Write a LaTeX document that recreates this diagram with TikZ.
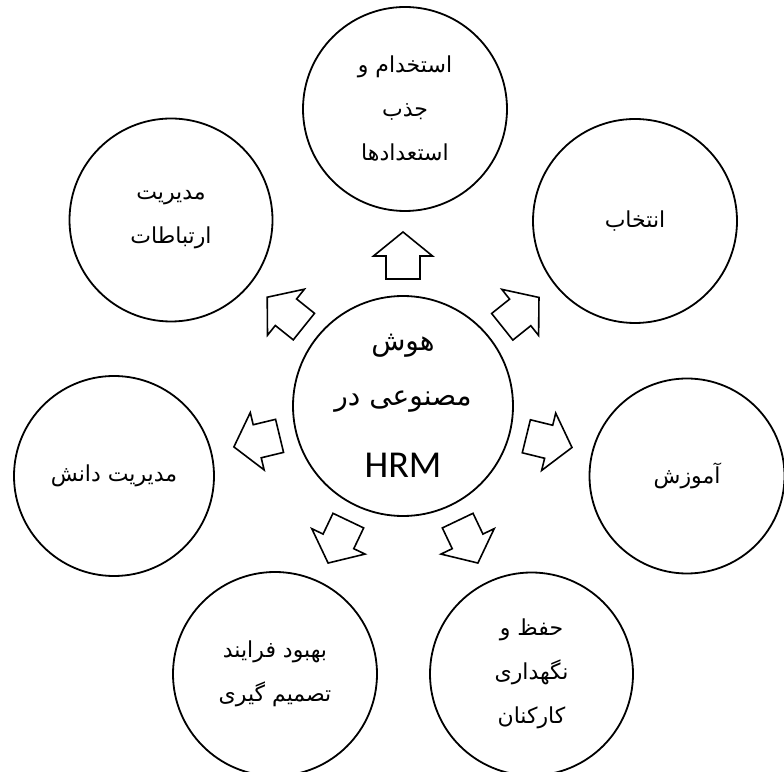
\documentclass[tikz,border=0pt]{standalone}
\usepackage{fontspec}
\TeXXeTstate=1
\newfontfamily\fafont[Script=Arabic]{DejaVu Sans}
\newfontfamily\latinfont{Carlito}
\begin{document}
\begin{tikzpicture}[x=1pt,y=1pt,
  ring/.style={circle, draw, line width=1.8pt, inner sep=0pt, align=center,
    font=\fafont\fontsize{22}{44}\selectfont},
  centertext/.style={inner sep=0pt, font=\fafont\fontsize{28}{30}\selectfont},
  blockarrow/.style={draw, line width=1.6pt, fill=white, line join=miter}]
\useasboundingbox (0,0) rectangle (784,771);
\clip (0,0) rectangle (784,771);
% hub
\node[circle, draw, line width=1.8pt, minimum size=220pt, inner sep=0pt] (hub) at (403,365) {};
\node[centertext] (c1) at ([yshift=60pt]hub.center) {\beginR هوش\endR};
\node[centertext] (c2) at ([yshift=4pt]hub.center) {\beginR مصنوعی در\endR};
\node[inner sep=0pt, font=\latinfont\fontsize{38}{40}\selectfont] (c3) at ([yshift=-59pt]hub.center) {HRM};
% outer circles
\node[ring, minimum size=204pt] (top) at (405,662) {\beginR استخدام و\endR\\\beginR جذب\endR\\\beginR استعدادها\endR};
\node[ring, minimum size=203pt] (tl) at (171,551) {\beginR مدیریت\endR\\\beginR ارتباطات\endR};
\node[ring, minimum size=204pt] (tr) at (635,550) {\beginR انتخاب\endR};
\node[ring, minimum size=195pt] (rt) at (687,295) {\beginR آموزش\endR};
\node[ring, minimum size=200pt] (lf) at (114,295) {\beginR مدیریت دانش\endR};
\node[ring, minimum size=204pt] (bl) at (275,97) {\beginR بهبود فرایند\endR\\\beginR تصمیم گیری\endR};
\node[ring, minimum size=203pt] (br) at (531.5,97) {\beginR حفظ و\endR\\\beginR نگهداری\endR\\\beginR کارکنان\endR};
% block arrows from hub outwards
\foreach \a in {90,38.6,-13.8,-64.5,-115.5,193.6,141.3}
  \draw[blockarrow, shift={(hub.center)}, rotate=\a]
    (127,-17) -- (150,-17) -- (150,-29.5) -- (174,0) -- (150,29.5) -- (150,17) -- (127,17) -- cycle;
\end{tikzpicture}
\end{document}
